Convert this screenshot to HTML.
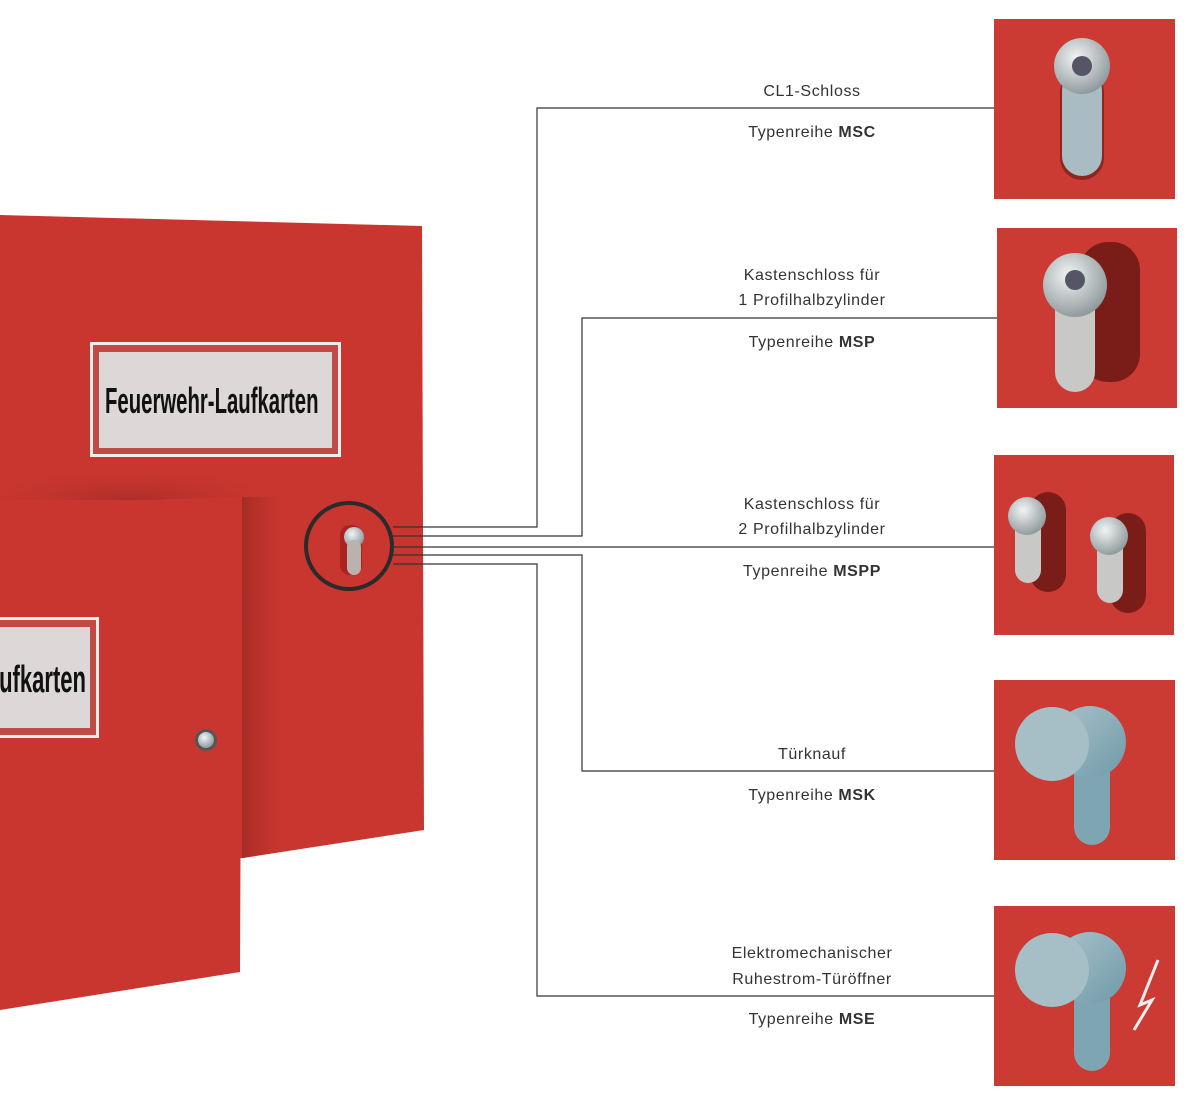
<!DOCTYPE html>
<html><head><meta charset="utf-8"><style>
body{margin:0;background:#fff;width:1192px;height:1104px;overflow:hidden;font-family:"Liberation Sans",sans-serif}
svg{display:block}
</style></head><body>
<svg width="1192" height="1104" viewBox="0 0 1192 1104" xmlns="http://www.w3.org/2000/svg">
<defs>
<radialGradient id="met" cx="0.4" cy="0.35" r="0.7"><stop offset="0" stop-color="#f2f4f4"/><stop offset="1" stop-color="#8a9598"/></radialGradient>
<linearGradient id="knob" x1="0" y1="0" x2="1" y2="1"><stop offset="0" stop-color="#a9c3cc"/><stop offset="1" stop-color="#6f9aa8"/></linearGradient>
<linearGradient id="sh" x1="0" y1="0" x2="1" y2="0"><stop offset="0" stop-color="#8e2420" stop-opacity="0.6"/><stop offset="1" stop-color="#c9362f" stop-opacity="0"/></linearGradient>
<radialGradient id="sh2" cx="0.5" cy="1" r="0.6"><stop offset="0" stop-color="#9a2824" stop-opacity="0.6"/><stop offset="1" stop-color="#c9362f" stop-opacity="0"/></radialGradient>
<clipPath id="big"><polygon points="0,215 422,226 424,830 243,858 0,880"/></clipPath>
</defs>
<polygon points="0,215 422,226 424,830 243,858 0,880" fill="#c9362f"/>
<g clip-path="url(#big)">
<rect x="-20" y="440" width="300" height="60" fill="url(#sh2)"/>
<rect x="242" y="497" width="50" height="370" fill="url(#sh)"/>
</g>
<rect x="90" y="342" width="251" height="115" fill="#eee"/>
<rect x="93" y="345" width="245" height="109" fill="#c04a45"/>
<rect x="99" y="352" width="233" height="96" fill="#ddd8d7"/>
<text x="0" y="0" font-size="36" font-weight="bold" fill="#111" font-family="Liberation Sans Narrow, Liberation Sans, sans-serif" transform="translate(105 413) scale(0.565 1)">Feuerwehr-Laufkarten</text>
<polygon points="0,505 242,497 240,972 0,1010" fill="#c9362f"/>
<rect x="-5" y="617" width="104" height="121" fill="#eee"/>
<rect x="-5" y="620" width="101" height="115" fill="#c04a45"/>
<rect x="-5" y="627" width="95" height="101" fill="#ddd8d7"/>
<text x="0" y="0" font-size="38" font-weight="bold" fill="#111" font-family="Liberation Sans Narrow, Liberation Sans, sans-serif" text-anchor="end" transform="translate(86 692) scale(0.58 1)">aufkarten</text>
<circle cx="206" cy="740" r="11" fill="#555"/><circle cx="206" cy="740" r="8" fill="url(#met)"/>
<rect x="340" y="525" width="22" height="50" rx="10" fill="#a22"/>
<circle cx="354" cy="537" r="10" fill="url(#met)"/>
<rect x="347" y="540" width="14" height="35" rx="7" fill="#b9b2ae"/>
<circle cx="349" cy="546" r="43" fill="none" stroke="#2b2b2b" stroke-width="4"/>
<g fill="none" stroke="#333" stroke-width="1.2">
<polyline points="393,527 537,527 537,108 994,108"/>
<polyline points="393,536 582,536 582,318 997,318"/>
<polyline points="393,547 994,547"/>
<polyline points="393,555 582,555 582,771 994,771"/>
<polyline points="393,564 537,564 537,996 994,996"/>
</g>
<g font-size="16" fill="#333" text-anchor="middle" letter-spacing="0.6">
<text x="812" y="96">CL1-Schloss</text>
<text x="812" y="137">Typenreihe <tspan font-weight="bold">MSC</tspan></text>
<text x="812" y="280">Kastenschloss für</text>
<text x="812" y="305">1 Profilhalbzylinder</text>
<text x="812" y="347">Typenreihe <tspan font-weight="bold">MSP</tspan></text>
<text x="812" y="509">Kastenschloss für</text>
<text x="812" y="534">2 Profilhalbzylinder</text>
<text x="812" y="576">Typenreihe <tspan font-weight="bold">MSPP</tspan></text>
<text x="812" y="759">Türknauf</text>
<text x="812" y="800">Typenreihe <tspan font-weight="bold">MSK</tspan></text>
<text x="812" y="958">Elektromechanischer</text>
<text x="812" y="984">Ruhestrom-Türöffner</text>
<text x="812" y="1024">Typenreihe <tspan font-weight="bold">MSE</tspan></text>
</g>
<rect x="994" y="19" width="181" height="180" fill="#cb3a33"/>
<rect x="1060" y="70" width="44" height="110" rx="22" fill="#8e2520"/>
<rect x="1062" y="70" width="40" height="106" rx="20" fill="#a9bcc3"/>
<circle cx="1082" cy="66" r="28" fill="url(#met)"/>
<circle cx="1082" cy="66" r="10" fill="#556"/>
<rect x="997" y="228" width="180" height="180" fill="#cb3a33"/>
<rect x="1080" y="242" width="60" height="140" rx="28" fill="#7a1d19"/>
<rect x="1055" y="280" width="40" height="112" rx="20" fill="#c8c8c6"/>
<circle cx="1075" cy="285" r="32" fill="url(#met)"/>
<circle cx="1075" cy="280" r="10" fill="#556"/>
<rect x="994" y="455" width="180" height="180" fill="#cb3a33"/>
<rect x="1030" y="492" width="36" height="100" rx="18" fill="#7a1d19"/>
<rect x="1015" y="515" width="26" height="68" rx="13" fill="#c8c8c6"/>
<circle cx="1027" cy="516" r="19" fill="url(#met)"/>
<rect x="1110" y="513" width="36" height="100" rx="18" fill="#7a1d19"/>
<rect x="1097" y="535" width="26" height="68" rx="13" fill="#c8c8c6"/>
<circle cx="1109" cy="536" r="19" fill="url(#met)"/>
<rect x="994" y="680" width="181" height="180" fill="#cb3a33"/>
<rect x="1074" y="720" width="36" height="125" rx="18" fill="#7da5b2"/>
<circle cx="1090" cy="742" r="36" fill="url(#knob)"/>
<circle cx="1052" cy="744" r="37" fill="#a6bec6"/>
<rect x="994" y="906" width="181" height="180" fill="#cb3a33"/>
<rect x="1074" y="946" width="36" height="125" rx="18" fill="#7da5b2"/>
<circle cx="1090" cy="968" r="36" fill="url(#knob)"/>
<circle cx="1052" cy="970" r="37" fill="#a6bec6"/>
<polyline points="1158,960 1140,1005 1152,1000 1134,1030" fill="none" stroke="#eee" stroke-width="3"/>
</svg>
</body></html>
